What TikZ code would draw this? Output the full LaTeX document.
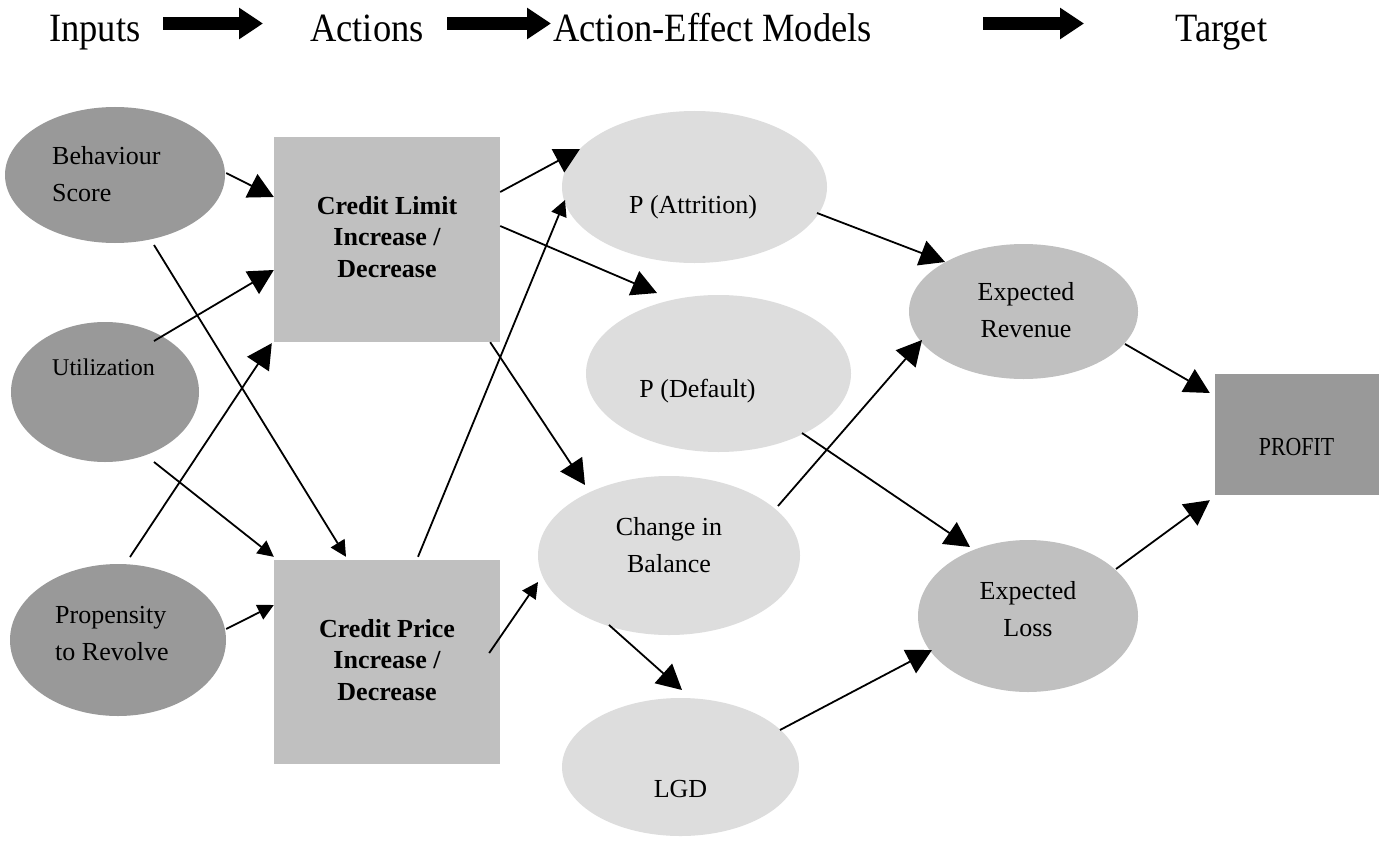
\documentclass[tikz,border=0pt]{standalone}
\usepackage{fontspec}
\setmainfont{Liberation Serif}
\usetikzlibrary{arrows.meta,calc,shapes.geometric}
\definecolor{darkg}{HTML}{999999}
\definecolor{midg}{HTML}{C0C0C0}
\definecolor{lightg}{HTML}{DDDDDD}
\newcommand\twoL[2]{\begin{tabular}[t]{@{}l@{}}#1\\#2\end{tabular}}
\newcommand\twoC[2]{\begin{tabular}[t]{@{}c@{}}#1\\#2\end{tabular}}
\newcommand\threeC[3]{\begin{tabular}[t]{@{}c@{}}#1\\#2\\#3\end{tabular}}
\begin{document}
\begin{tikzpicture}[x=1pt,y=-1pt,
  ell/.style={ellipse, draw=none, inner sep=0pt},
  boxn/.style={rectangle, draw=none, inner sep=0pt},
  txt/.style={inner sep=0pt, font=\fontsize{26}{37}\selectfont},
  btxt/.style={inner sep=0pt, anchor=base, font=\fontsize{26}{31.5}\selectfont\bfseries},
  head/.style={inner sep=0pt, anchor=base west, font=\fontsize{36.5}{44}\selectfont},
  arrL/.style={-{Triangle[length=25pt,width=26pt]}, line width=1.8pt},
  arrM/.style={-{Triangle[length=16pt,width=16pt]}, line width=1.8pt},
  fat/.style={-{Triangle[length=24pt,width=30pt]}, line width=13.5pt},
]
\useasboundingbox[fill=white] (0,0) rectangle (1388,840);

% header
\node[head] (hin)  at (49,42)   {\scalebox{1}[1.1]{Inputs}};
\node[head] (hact) at (310,42)  {\scalebox{1}[1.1]{Actions}};
\node[head] (haem) at (553,42)  {\scalebox{1}[1.1]{Action-Effect Models}};
\node[head] (htar) at (1175,42) {\scalebox{1}[1.1]{Target}};
\coordinate (f1s) at (163,23.5); \coordinate (f1e) at (263,23.5);
\coordinate (f2s) at (447,23.5); \coordinate (f2e) at (551,23.5);
\coordinate (f3s) at (983,23.5); \coordinate (f3e) at (1084,23.5);
\draw[fat] (f1s) -- (f1e);
\draw[fat] (f2s) -- (f2e);
\draw[fat] (f3s) -- (f3e);

% shapes
\node[ell, fill=darkg, minimum width=220pt, minimum height=136pt] (beh) at (115,175) {};
\node[ell, fill=darkg, minimum width=188pt, minimum height=140pt] (util) at (105,392) {};
\node[ell, fill=darkg, minimum width=216pt, minimum height=152pt] (prop) at (118,640) {};
\node[boxn, fill=midg, minimum width=226pt, minimum height=205pt] (cl) at (387,239.5) {};
\node[boxn, fill=midg, minimum width=226pt, minimum height=204pt] (cp) at (387,662) {};
\node[ell, fill=lightg, minimum width=265pt, minimum height=152pt] (att) at (694.5,187) {};
\node[ell, fill=lightg, minimum width=265pt, minimum height=157pt] (def) at (718.5,373.5) {};
\node[ell, fill=lightg, minimum width=262pt, minimum height=159pt] (chg) at (669,555.5) {};
\node[ell, fill=lightg, minimum width=237pt, minimum height=138pt] (lgd) at (680.5,767) {};
\node[ell, fill=midg, minimum width=229pt, minimum height=135pt] (rev) at (1023.5,311.5) {};
\node[ell, fill=midg, minimum width=220pt, minimum height=152pt] (los) at (1028,616) {};
\node[boxn, fill=darkg, minimum width=164pt, minimum height=121pt] (pro) at (1297,434.5) {};

% texts
\node[txt, anchor=base west] (tbeh) at ($(beh.center)+(-63,-11)$) {\twoL{Behaviour}{Score}};
\node[txt, anchor=base west, font=\fontsize{24}{37}\selectfont] (tutil) at ($(util.center)+(-53,-17)$) {Utilization};
\node[txt, anchor=base west] (tprop) at ($(prop.center)+(-63,-17)$) {\twoL{Propensity}{to Revolve}};
\node[btxt] (tcl) at ($(cl.center)+(0,-25.5)$) {\threeC{Credit Limit}{Increase /}{Decrease}};
\node[btxt] (tcp) at ($(cp.center)+(0,-25)$) {\threeC{Credit Price}{Increase /}{Decrease}};
\node[txt, anchor=base] (tatt) at ($(att.center)+(-1.5,26)$) {P (Attrition)};
\node[txt, anchor=base] (tdef) at ($(def.center)+(-21,23.5)$) {P (Default)};
\node[txt, anchor=base] (tchg) at ($(chg.center)+(0,-20.5)$) {\twoC{Change in}{Balance}};
\node[txt, anchor=base] (tlgd) at ($(lgd.center)+(0,30)$) {LGD};
\node[txt, anchor=base] (trev) at ($(rev.center)+(2.5,-11.5)$) {\twoC{Expected}{Revenue}};
\node[txt, anchor=base] (tlos) at ($(los.center)+(0,-17)$) {\twoC{Expected}{Loss}};
\node[txt, anchor=base] (tpro) at ($(pro.center)+(-0.5,20.5)$) {\scalebox{0.84}[1]{PROFIT}};

% connectors
\draw[arrL] ($(beh.east)+(1,-2)$) -- ($(cl.west)+(0,-42.5)$);
\draw[arrM] ($(beh.center)+(39,70)$) -- ($(cp.north)+(-41,-3)$);
\draw[arrL] ($(util.center)+(49,-51)$) -- ($(cl.west)+(0,30.5)$);
\draw[arrM] ($(util.center)+(49,70)$) -- ($(cp.north west)+(0,-3)$);
\draw[arrL] ($(prop.center)+(12,-83)$) -- ($(cl.south west)+(-2,1)$);
\draw[arrM] ($(prop.east)+(0,-11)$) -- ($(cp.west)+(0,-57)$);
\draw[arrL] ($(cl.east)+(0,-47.5)$) -- ($(att.center)+(-114.5,-38)$);
\draw[arrM] ($(cp.north)+(31,-3)$) -- ($(att.center)+(-129.5,13)$);
\draw[arrL] ($(cl.east)+(0,-13.5)$) -- ($(def.center)+(-61.5,-80.5)$);
\draw[arrL] ($(cl.south east)+(-10,0)$) -- ($(chg.center)+(-84,-70.5)$);
\draw[arrM] ($(cp.east)+(-11,-9)$) -- ($(chg.center)+(-131,26.5)$);
\draw[arrL] ($(att.center)+(122.5,26)$) -- ($(rev.center)+(-78.5,-49.5)$);
\draw[arrL] ($(def.center)+(83.5,59.5)$) -- ($(los.center)+(-58,-69)$);
\draw[arrL] ($(chg.center)+(109,-49.5)$) -- ($(rev.center)+(-101.5,28.5)$);
\draw[arrL] ($(chg.center)+(-60,69.5)$) -- ($(lgd.center)+(1.5,-77)$);
\draw[arrL] ($(lgd.center)+(99.5,-37)$) -- ($(los.center)+(-96,34)$);
\draw[arrL] ($(rev.center)+(101.5,32.5)$) -- ($(pro.west)+(-5,-41.5)$);
\draw[arrL] ($(los.center)+(88,-47)$) -- ($(pro.south west)+(-5,5)$);
\end{tikzpicture}
\end{document}
